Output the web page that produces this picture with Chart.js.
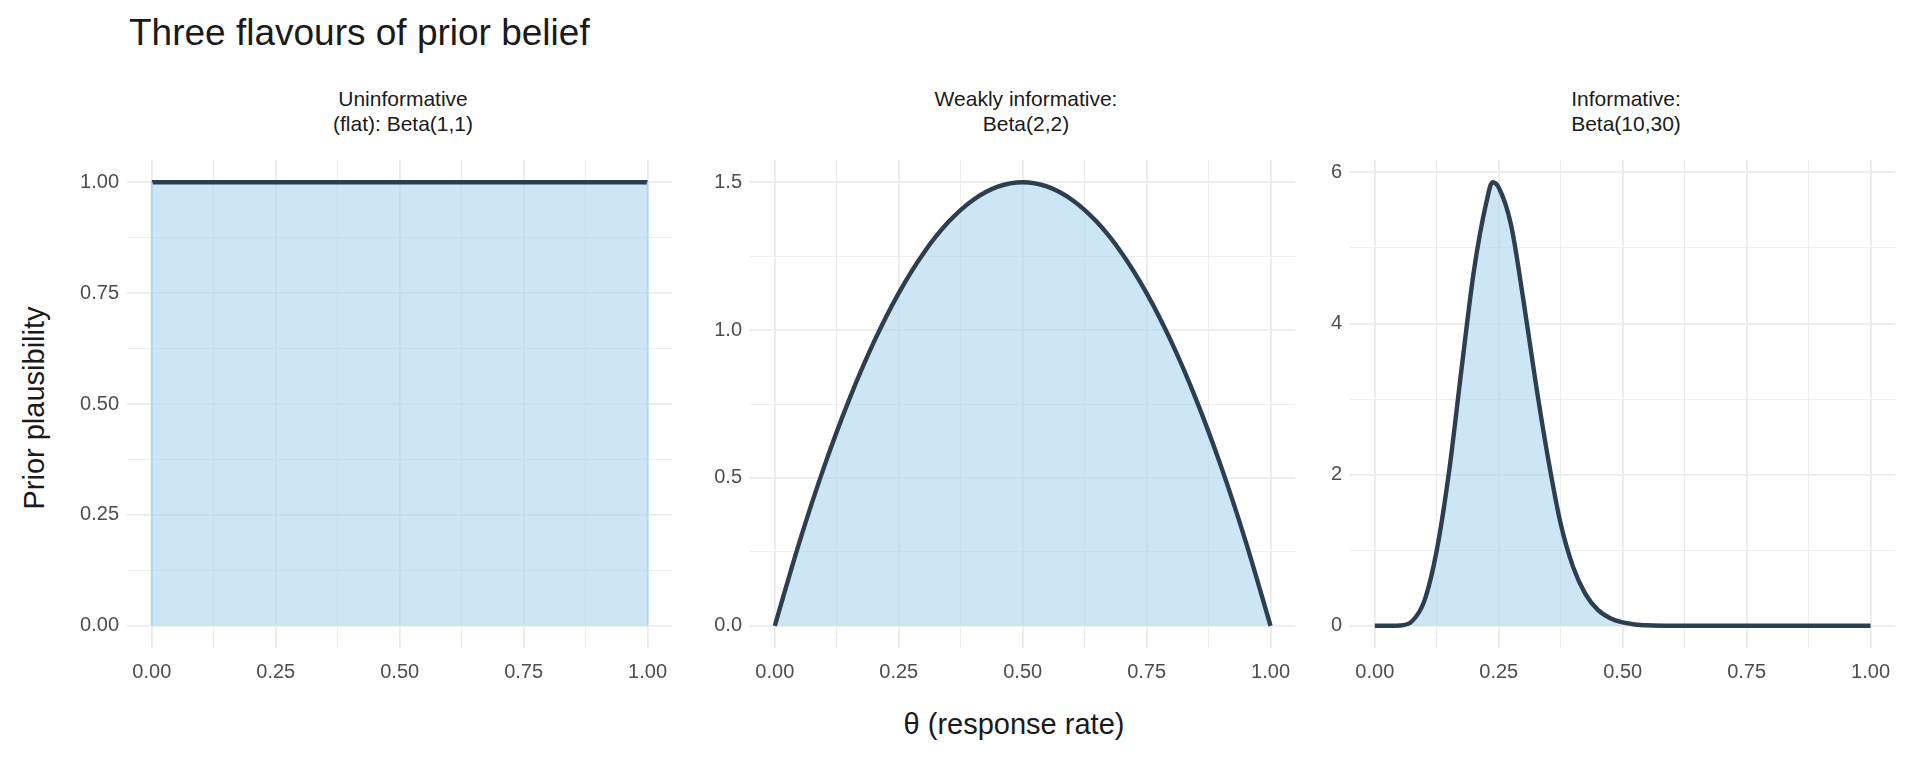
<!DOCTYPE html>
<html><head><meta charset="utf-8">
<script src="https://cdn.jsdelivr.net/npm/chart.js@4"></script>
<style>
body{margin:0;width:1920px;height:768px;background:#fff;font-family:"Liberation Sans",Arial,sans-serif;position:relative;overflow:hidden}
canvas{position:absolute}
.t{position:absolute;color:#1a1a1a;white-space:nowrap}
.ft{position:absolute;font-size:21px;text-align:center;line-height:25px;color:#1a1a1a;transform:translateX(-50%)}
</style></head><body>
<div class="t" style="left:129px;top:12px;font-size:37px">Three flavours of prior belief</div>
<div class="ft" style="left:403px;top:86px">Uninformative<br>(flat): Beta(1,1)</div>
<div class="ft" style="left:1026px;top:86px">Weakly informative:<br>Beta(2,2)</div>
<div class="ft" style="left:1626px;top:86px">Informative:<br>Beta(10,30)</div>
<div class="t" style="left:1014px;top:708px;font-size:29px;transform:translateX(-50%)">θ (response rate)</div>
<div class="t" style="left:34px;top:408px;font-size:29px;transform:translate(-50%,-50%) rotate(-90deg)">Prior plausibility</div>
<canvas id="c1"></canvas><canvas id="c2"></canvas><canvas id="c3"></canvas>
<script>
const flatX=[0,1];
const flatY=[1,1];
const weakX=[0,0.05,0.1,0.15,0.2,0.25,0.3,0.35,0.4,0.45,0.5,0.55,0.6,0.65,0.7,0.75,0.8,0.85,0.9,0.95,1];
const weakY=[0,0.285,0.54,0.765,0.96,1.125,1.26,1.365,1.44,1.485,1.5,1.485,1.44,1.365,1.26,1.125,0.96,0.765,0.54,0.285,0];
const infX=[0,0.025,0.05,0.075,0.1,0.125,0.15,0.175,0.2,0.225,0.2375,0.25,0.275,0.3,0.325,0.35,0.375,0.4,0.425,0.45,0.475,0.5,0.525,0.55,0.6,0.7,0.8,0.9,1];
const infY=[0,0,0.004,0.06,0.33,1.0,2.05,3.4,4.7,5.6,5.87,5.8,5.3,4.3,3.2,2.2,1.35,0.78,0.42,0.21,0.1,0.045,0.018,0.007,0.001,0,0,0,0];
const xMajor=[0,0.25,0.5,0.75,1];
const xLabels=["0.00","0.25","0.50","0.75","1.00"];

function panel(id,left,xs,ys,ymin,ymax,yTicks,yMinor,yFmt,edge){
  const cv=document.getElementById(id);
  const W=622,H=566;
  cv.style.left=(left-70)+'px';cv.style.top='140px';cv.width=W;cv.height=H;cv.style.width=W+'px';cv.style.height=H+'px';
  const pts=xs.map((x,i)=>({x:x,y:ys[i]}));
  const xt=[0,0.125,0.25,0.375,0.5,0.625,0.75,0.875,1];
  const yt=[...yTicks,...yMinor].sort((a,b)=>a-b);
  new Chart(cv,{type:'line',data:{datasets:[{data:pts,borderColor:'#2c3e50',borderWidth:4.4,pointRadius:0,
    fill:{target:'origin'},backgroundColor:'rgba(174,214,241,0.62)',cubicInterpolationMode:'monotone'}]},
   options:{responsive:false,animation:false,layout:{padding:{top:10,right:0,left:0,bottom:0}},
    plugins:{legend:{display:false},tooltip:{enabled:false}},
    scales:{
     x:{type:'linear',min:-0.05,max:1.05,border:{display:false},
       afterBuildTicks:s=>{s.ticks=xt.map(v=>({value:v}));},
       afterFit:s=>{s.height=58;},
       grid:{color:'#ebebeb',lineWidth:c=>xMajor.includes(c.tick.value)?1.8:0.9,drawTicks:false},
       ticks:{autoSkip:false,maxRotation:0,padding:12,color:'#4d4d4d',font:{size:20,family:'Liberation Sans'},
        callback:v=>{const i=xMajor.indexOf(v);return i>=0?xLabels[i]:'';}}},
     y:{type:'linear',min:ymin,max:ymax,border:{display:false},
       afterBuildTicks:s=>{s.ticks=yt.map(v=>({value:v}));},
       afterFit:s=>{s.width=70;},
       grid:{color:'#ebebeb',lineWidth:c=>yTicks.includes(c.tick.value)?1.8:0.9,drawTicks:false},
       ticks:{autoSkip:false,padding:8,color:'#4d4d4d',font:{size:20,family:'Liberation Sans'},
        callback:v=>yTicks.includes(v)?yFmt(v):''}}}
   },
   plugins:[{id:'edge',afterDatasetsDraw(ch){ if(!edge)return; const c=ch.ctx,x=ch.scales.x,y=ch.scales.y;
     c.save();c.strokeStyle='rgba(174,214,241,0.9)';c.lineWidth=2;
     [0,1].forEach(v=>{c.beginPath();c.moveTo(x.getPixelForValue(v),y.getPixelForValue(0));c.lineTo(x.getPixelForValue(v),y.getPixelForValue(1));c.stroke();});
     c.restore();}}]
  });
}
panel('c1',127,flatX,flatY,-0.05,1.05,[0,0.25,0.5,0.75,1],[0.125,0.375,0.625,0.875],v=>v.toFixed(2),true);
panel('c2',750,weakX,weakY,-0.075,1.575,[0,0.5,1,1.5],[0.25,0.75,1.25],v=>v.toFixed(1),false);
panel('c3',1350,infX,infY,-0.2935,6.1635,[0,2,4,6],[1,3,5],v=>String(v),false);
</script></body></html>
